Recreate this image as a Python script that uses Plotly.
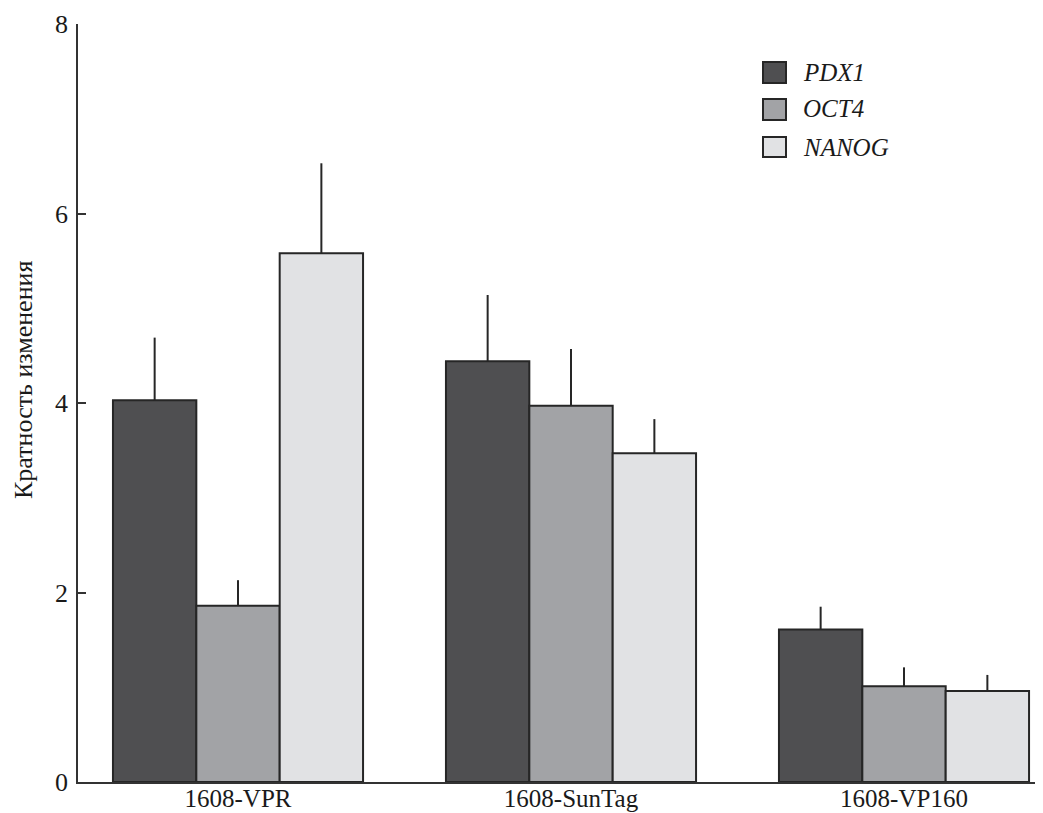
import plotly.graph_objects as go

categories = ["1608-VPR", "1608-SunTag", "1608-VP160"]
series_names = ["PDX1", "OCT4", "NANOG"]
pdx1 = [4.03, 4.44, 1.61]
pdx1_err = [0.66, 0.70, 0.24]
oct4 = [1.86, 3.97, 1.01]
oct4_err = [0.27, 0.60, 0.20]
nanog = [5.58, 3.47, 0.96]
nanog_err = [0.95, 0.36, 0.17]
y_ticks = [0, 2, 4, 6, 8]
y_title = "Кратность изменения"

colors = ["#4f4f51", "#a2a3a6", "#e1e2e4"]
font_family = "Liberation Serif"

fig = go.Figure()
for name, vals, errs, col in zip(series_names, [pdx1, oct4, nanog],
                                 [pdx1_err, oct4_err, nanog_err], colors):
    fig.add_trace(go.Bar(
        x=categories, y=vals, name=name,
        marker=dict(color=col, line=dict(color="#262626", width=2)),
        error_y=dict(type="data", symmetric=False, array=errs,
                     arrayminus=[0] * len(errs), width=0,
                     thickness=2, color="#262626"),
        showlegend=False,
    ))

# page has an 8px body margin; figure sized to fit the window
OFF = 8
W, H = 1043 - OFF, 813 - OFF
ml, mr, mt, mb = 78 - OFF, 0, 24 - OFF, 31
pw, ph = W - ml - mr, H - mt - mb

def px2paper_x(px):
    return (px - OFF - ml) / pw

def px2paper_y(py):
    return (H - mb - (py - OFF)) / ph

# custom legend (large swatches), positions in page pixels
leg_x0, leg_x1 = 763, 786
leg_rows = [(62, 83, 72), (99, 120, 109), (137, 157, 147)]
for (ya, yb, yc), name, col in zip(leg_rows, series_names, colors):
    fig.add_shape(type="rect", xref="paper", yref="paper",
                  x0=px2paper_x(leg_x0), x1=px2paper_x(leg_x1),
                  y0=px2paper_y(yb), y1=px2paper_y(ya),
                  fillcolor=col, line=dict(color="#262626", width=2))
    fig.add_annotation(xref="paper", yref="paper",
                       x=px2paper_x(801), y=px2paper_y(yc),
                       xanchor="left", yanchor="middle", showarrow=False,
                       text="<i>" + name + "</i>",
                       font=dict(family=font_family, size=25, color="#1a1a1a"))

# y-axis title as rotated annotation
fig.add_annotation(xref="paper", yref="paper",
                   x=px2paper_x(24), y=px2paper_y(380),
                   xanchor="center", yanchor="middle", showarrow=False,
                   textangle=-90, text=y_title,
                   font=dict(family=font_family, size=26, color="#1a1a1a"))

fig.update_layout(
    width=W, height=H,
    margin=dict(l=ml, r=mr, t=mt, b=mb),
    paper_bgcolor="white", plot_bgcolor="white",
    barmode="group", bargap=0.249, bargroupgap=0,
    font=dict(family=font_family, size=25, color="#1a1a1a"),
    showlegend=False,
)
fig.update_xaxes(
    range=[-0.4805, 2.4174], showline=True, linecolor="#333333", linewidth=1.5,
    ticks="", showgrid=False, zeroline=False, ticklabelstandoff=-7,
    tickfont=dict(family=font_family, size=25, color="#1a1a1a"),
)
fig.update_yaxes(
    range=[0, 8], tickvals=y_ticks, showline=True, linecolor="#333333",
    linewidth=1.5, ticks="inside", ticklen=8, tickwidth=1.5, tickcolor="#333333",
    showgrid=False, zeroline=False, ticklabelstandoff=3,
    tickfont=dict(family=font_family, size=26, color="#1a1a1a"),
)

fig.write_html("out.html")
